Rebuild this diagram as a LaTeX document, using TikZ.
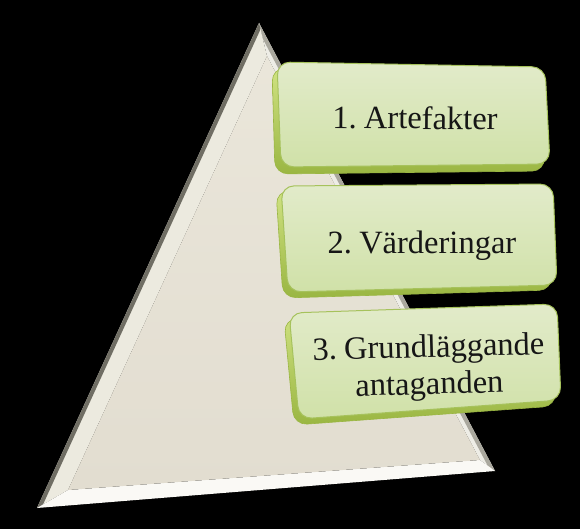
\documentclass[tikz,border=0pt]{standalone}
\usepackage{fontspec}
\setmainfont[WordSpace=0.55]{Liberation Serif}
\definecolor{facecol}{RGB}{234,230,218}
\definecolor{facebot}{RGB}{226,221,208}
\definecolor{bevL}{RGB}{236,234,223}
\definecolor{bevLdark}{RGB}{112,110,100}
\definecolor{bevB}{RGB}{250,249,245}
\definecolor{bevR}{RGB}{238,237,230}
\definecolor{bevRdark}{RGB}{170,168,158}
\definecolor{boxtop}{RGB}{226,235,202}
\definecolor{boxbot}{RGB}{208,225,168}
\definecolor{boxedge}{RGB}{166,194,92}
\definecolor{rimlight}{RGB}{208,226,130}
\definecolor{rimdark}{RGB}{154,182,66}
\definecolor{txt}{RGB}{22,22,22}
\tikzset{
  rim/.style={top color=rimlight, bottom color=rimdark, draw=rimdark, line width=0.6pt, rounded corners=13pt},
  boxface/.style={top color=boxtop, bottom color=boxbot, draw=boxedge, line width=1pt, rounded corners=13pt},
  label/.style={text=txt, inner sep=0pt, font=\fontsize{32.5}{37}\selectfont}
}
\begin{document}
\begin{tikzpicture}[x=1pt,y=-1pt]
\useasboundingbox (0,0) rectangle (580,529);
\fill[black] (0,0) rectangle (580,529);
% triangle
\coordinate (A) at (259,23);
\coordinate (B) at (37,508);
\coordinate (C) at (495,471);
\coordinate (Ai) at (267,56);
\coordinate (Bi) at (68,490);
\coordinate (Ci) at (480,460);
\fill[bevR] (A) -- (C) -- (Ci) -- (Ai) -- cycle;
\begin{scope}
  \clip (A) -- (C) -- (Ci) -- (Ai) -- cycle;
  \draw[bevRdark, line width=8pt] (A) -- (C);
\end{scope}
\fill[bevL] (A) -- (B) -- (Bi) -- (Ai) -- cycle;
\begin{scope}
  \clip (A) -- (B) -- (Bi) -- (Ai) -- cycle;
  \draw[bevLdark, line width=8pt] (A) -- (B);
\end{scope}
\fill[bevB] (B) -- (C) -- (Ci) -- (Bi) -- cycle;
\shade[top color=facecol, bottom color=facebot] (Ai) -- (Bi) -- (Ci) -- cycle;
% box 1
\shadedraw[rim] (272,68) -- (540,73) -- (545,171) -- (275,174) -- cycle;
\shadedraw[boxface] (277,62) -- (545,67) -- (550,164) -- (281,167) -- cycle;
\node[label, anchor=base, rotate=-0.5] (t1) at (415,129) {1. Artefakter};
% box 2
\shadedraw[rim] (276,191) -- (548,189) -- (552,290) -- (283,298) -- cycle;
\shadedraw[boxface] (281,186) -- (553,184) -- (557,285) -- (288,292) -- cycle;
\node[label, anchor=base] (t2) at (422,253) {2. Värderingar};
% box 3
\shadedraw[rim] (284,319) -- (552,310) -- (556,406) -- (294,425) -- cycle;
\shadedraw[boxface] (289,313) -- (557,304) -- (561,400) -- (299,419) -- cycle;
\node[label, align=center, rotate=1.5] (t3) at (429,368) {3. Grundläggande\\antaganden};
\end{tikzpicture}
\end{document}
